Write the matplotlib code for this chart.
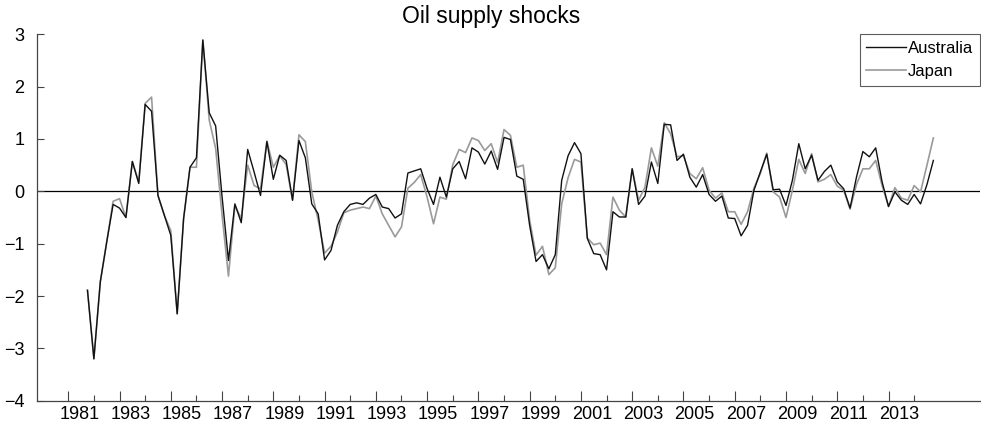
import numpy as np
import matplotlib
matplotlib.use("Agg")
import matplotlib.pyplot as plt
from matplotlib.transforms import ScaledTranslation

# quarterly, 1981Q4 .. 2014Q4
start = 1981.75
australia = [
    -1.89, -3.2, -1.73, -0.97, -0.25, -0.32, -0.5, 0.57, 0.15, 1.66,
    1.53, -0.08, -0.46, -0.84, -2.34, -0.52, 0.46, 0.64, 2.89, 1.5,
    1.25, -0.1, -1.32, -0.24, -0.6, 0.8, 0.37, -0.08, 0.95, 0.23,
    0.69, 0.59, -0.17, 0.97, 0.64, -0.24, -0.43, -1.31, -1.13, -0.65,
    -0.39, -0.25, -0.22, -0.25, -0.13, -0.06, -0.3, -0.33, -0.51, -0.43,
    0.35, 0.39, 0.43, 0.05, -0.25, 0.27, -0.11, 0.43, 0.57, 0.24,
    0.83, 0.75, 0.52, 0.77, 0.42, 1.03, 0.99, 0.29, 0.23, -0.65,
    -1.34, -1.21, -1.48, -1.21, 0.21, 0.68, 0.93, 0.72, -0.9, -1.19,
    -1.21, -1.5, -0.39, -0.49, -0.49, 0.43, -0.25, -0.09, 0.56, 0.15,
    1.28, 1.27, 0.59, 0.71, 0.27, 0.08, 0.32, -0.06, -0.19, -0.09,
    -0.51, -0.52, -0.85, -0.65, 0.02, 0.37, 0.71, 0.03, 0.04, -0.27,
    0.21, 0.91, 0.43, 0.69, 0.21, 0.38, 0.5, 0.18, 0.05, -0.32,
    0.27, 0.76, 0.66, 0.83, 0.18, -0.29, -0.01, -0.17, -0.25, -0.06,
    -0.24, 0.13, 0.59,
]
japan = [
    -1.89, -3.2, -1.73, -0.97, -0.19, -0.14, -0.5, 0.57, 0.18, 1.68,
    1.8, -0.08, -0.46, -0.75, -2.34, -0.52, 0.46, 0.46, 2.89, 1.36,
    0.82, -0.45, -1.62, -0.27, -0.52, 0.5, 0.11, 0.05, 0.96, 0.46,
    0.68, 0.51, -0.17, 1.08, 0.95, -0.01, -0.55, -1.18, -1.05, -0.78,
    -0.41, -0.36, -0.33, -0.3, -0.33, -0.09, -0.43, -0.65, -0.87, -0.68,
    0.06, 0.17, 0.32, -0.11, -0.62, -0.11, -0.15, 0.51, 0.8, 0.74,
    1.02, 0.97, 0.78, 0.91, 0.55, 1.18, 1.07, 0.46, 0.5, -0.55,
    -1.22, -1.05, -1.59, -1.46, -0.24, 0.26, 0.61, 0.56, -0.89, -1.02,
    -0.99, -1.21, -0.11, -0.36, -0.49, 0.43, -0.17, 0.08, 0.83, 0.48,
    1.31, 1.1, 0.66, 0.68, 0.34, 0.24, 0.45, 0.02, -0.13, -0.03,
    -0.39, -0.39, -0.63, -0.39, 0.06, 0.34, 0.73, -0.01, -0.11, -0.5,
    0.02, 0.61, 0.34, 0.72, 0.18, 0.23, 0.32, 0.1, 0.02, -0.34,
    0.13, 0.43, 0.43, 0.59, 0.11, -0.29, 0.07, -0.13, -0.17, 0.11,
    -0.01, 0.5, 1.02,
]
t = start + np.arange(len(australia)) / 4.0

plt.rcParams['font.family'] = ['Liberation Sans', 'DejaVu Sans']

fig = plt.figure(figsize=(9.81, 4.34), dpi=100)
ax = fig.add_axes([0.0377, 0.0767, 0.9613, 0.8443])

ax.axhline(0, color='black', lw=0.9, zorder=1)
ax.plot(t, australia, color='#111111', lw=1.0, label='Australia', zorder=3)
ax.plot(t, japan, color='#9a9a9a', lw=1.2, label='Japan', zorder=2)

ax.set_xlim(1979.78, 2016.57)
ax.set_ylim(-4, 3)
ax.set_yticks(range(-4, 4))
ax.set_yticklabels(['\u22124', '\u22123', '\u22122', '\u22121', '0', '1', '2', '3'])

ax.set_xticks(range(1981, 2015, 2))
ax.set_xticks(range(1982, 2015, 2), minor=True)
ax.set_xticklabels([str(y) for y in range(1981, 2015, 2)])

for s in ['top', 'right']:
    ax.spines[s].set_visible(False)
for s in ['left', 'bottom']:
    ax.spines[s].set_color('#444444')
    ax.spines[s].set_linewidth(0.9)

ax.tick_params(axis='x', which='major', direction='in', length=7, width=0.8,
               color='#444444', labelsize=13, pad=4)
ax.tick_params(axis='x', which='minor', direction='in', length=4, width=0.8,
               color='#444444')
ax.tick_params(axis='y', direction='in', length=5, width=0.8, color='#444444',
               labelsize=13, pad=9)

# labels sit a bit right of the year tick
off = ScaledTranslation(11 / 100, 0, fig.dpi_scale_trans)
for lab in ax.get_xticklabels():
    lab.set_transform(lab.get_transform() + off)

fig.text(0.501, 1 - 23.5 / 434, 'Oil supply shocks', fontsize=16.5,
         ha='center', va='baseline')

leg = ax.legend(loc='upper right', fontsize=12, frameon=True, fancybox=False,
                edgecolor='#333333', handlelength=2.4, handletextpad=0.1,
                borderpad=0.4, labelspacing=0.5, borderaxespad=0.0,
                bbox_to_anchor=(1.0, 1.0))
leg.get_frame().set_linewidth(0.8)

fig.savefig('out.png', dpi=100)
